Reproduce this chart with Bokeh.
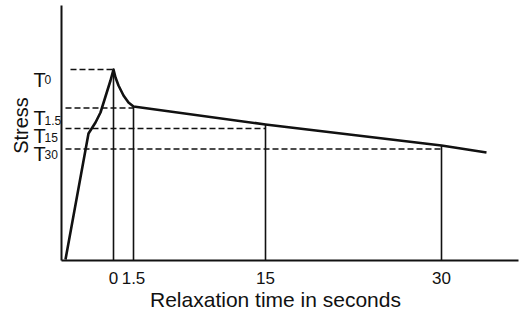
import numpy as np
from bokeh.plotting import figure
from bokeh.models import Range1d, FixedTicker, Label
from bokeh.embed import file_html
from bokeh.resources import INLINE

# ---- data (schematic drawing units) ----
# stress-time curve: loading ramp, peak T0, relaxation
curve_x = [4, 27, 34, 39, 44, 49, 52, 54, 57, 62, 67, 72, 204, 380, 425]
curve_y = [1, 127, 138, 148, 164, 180, 191, 183, 175, 165, 158, 154, 136, 115, 108]

# relaxation times (tick labels) and their positions on the drawn time axis
time_labels = ["0", "1.5", "15", "30"]
time_pos = [52, 72, 204, 380]

# stress levels T0, T1.5, T15, T30
level_subs = ["0", "1.5", "15", "30"]
level_y = [191, 152.5, 132, 111.5]
level_start = [9, 4, 4, 4]

# ---- styling ----
INK = "#111111"
FONT = "Liberation Sans"
label_dy = [-10, -10, -7, -5]      # baseline offsets of the T labels (px)
sub_dy = [0, -2, -2, 0]

p = figure(width=525, height=312,
           x_range=Range1d(-61, 464), y_range=Range1d(-52, 260),
           output_backend="svg", toolbar_location=None,
           min_border_left=0, min_border_right=0,
           min_border_top=0, min_border_bottom=0)
p.grid.visible = False
p.outline_line_color = None
p.background_fill_color = "white"
p.border_fill_color = "white"

# axes drawn at the origin of the drawing
p.xaxis.fixed_location = 0
p.yaxis.fixed_location = 0
p.xaxis.bounds = (0, 457)
p.yaxis.bounds = (0, 255)
p.xaxis.ticker = FixedTicker(ticks=time_pos)
p.xaxis.major_label_overrides = {pos: lab for pos, lab in zip(time_pos, time_labels)}
p.xaxis.major_tick_line_color = None
p.xaxis.minor_tick_line_color = None
p.xaxis.axis_line_width = 2
p.xaxis.axis_line_color = INK
p.xaxis.major_label_text_font = FONT
p.xaxis.major_label_text_font_size = "17px"
p.xaxis.major_label_text_color = INK
p.xaxis.major_label_standoff = 5

p.yaxis.ticker = FixedTicker(ticks=[])
p.yaxis.major_tick_line_color = None
p.yaxis.minor_tick_line_color = None
p.yaxis.axis_line_width = 2
p.yaxis.axis_line_color = INK

# vertical lines at the relaxation times, up to the curve
tops = np.interp(time_pos, curve_x, curve_y)
p.segment(x0=time_pos, y0=[0] * len(time_pos), x1=time_pos, y1=tops,
          line_color=INK, line_width=1.6)

# dashed stress levels
p.segment(x0=level_start, y0=level_y, x1=time_pos, y1=level_y,
          line_color=INK, line_width=1.6, line_dash="6 3")

# the curve
p.line(curve_x, curve_y, line_color=INK, line_width=2.6, line_join="round")

# T labels with subscripts
for sub, y, dy, sdy in zip(level_subs, level_y, label_dy, sub_dy):
    p.add_layout(Label(x=-28, y=y, y_offset=dy, text="T",
                       text_font=FONT, text_font_size="20px", text_color=INK,
                       text_baseline="alphabetic", text_align="left"))
    p.add_layout(Label(x=-28, y=y, x_offset=11, y_offset=dy + sdy, text=sub,
                       text_font=FONT, text_font_size="12px", text_color=INK,
                       text_baseline="alphabetic", text_align="left"))

# axis titles
p.add_layout(Label(x=-41, y=135, text="Stress", angle=np.pi / 2,
                   text_font=FONT, text_font_size="20px", text_color=INK,
                   text_align="center", text_baseline="middle"))
p.add_layout(Label(x=214, y=-39, text="Relaxation time in seconds",
                   text_font=FONT, text_font_size="21px", text_color=INK,
                   text_align="center", text_baseline="alphabetic"))

open("out.html", "w").write(file_html(p, INLINE))
